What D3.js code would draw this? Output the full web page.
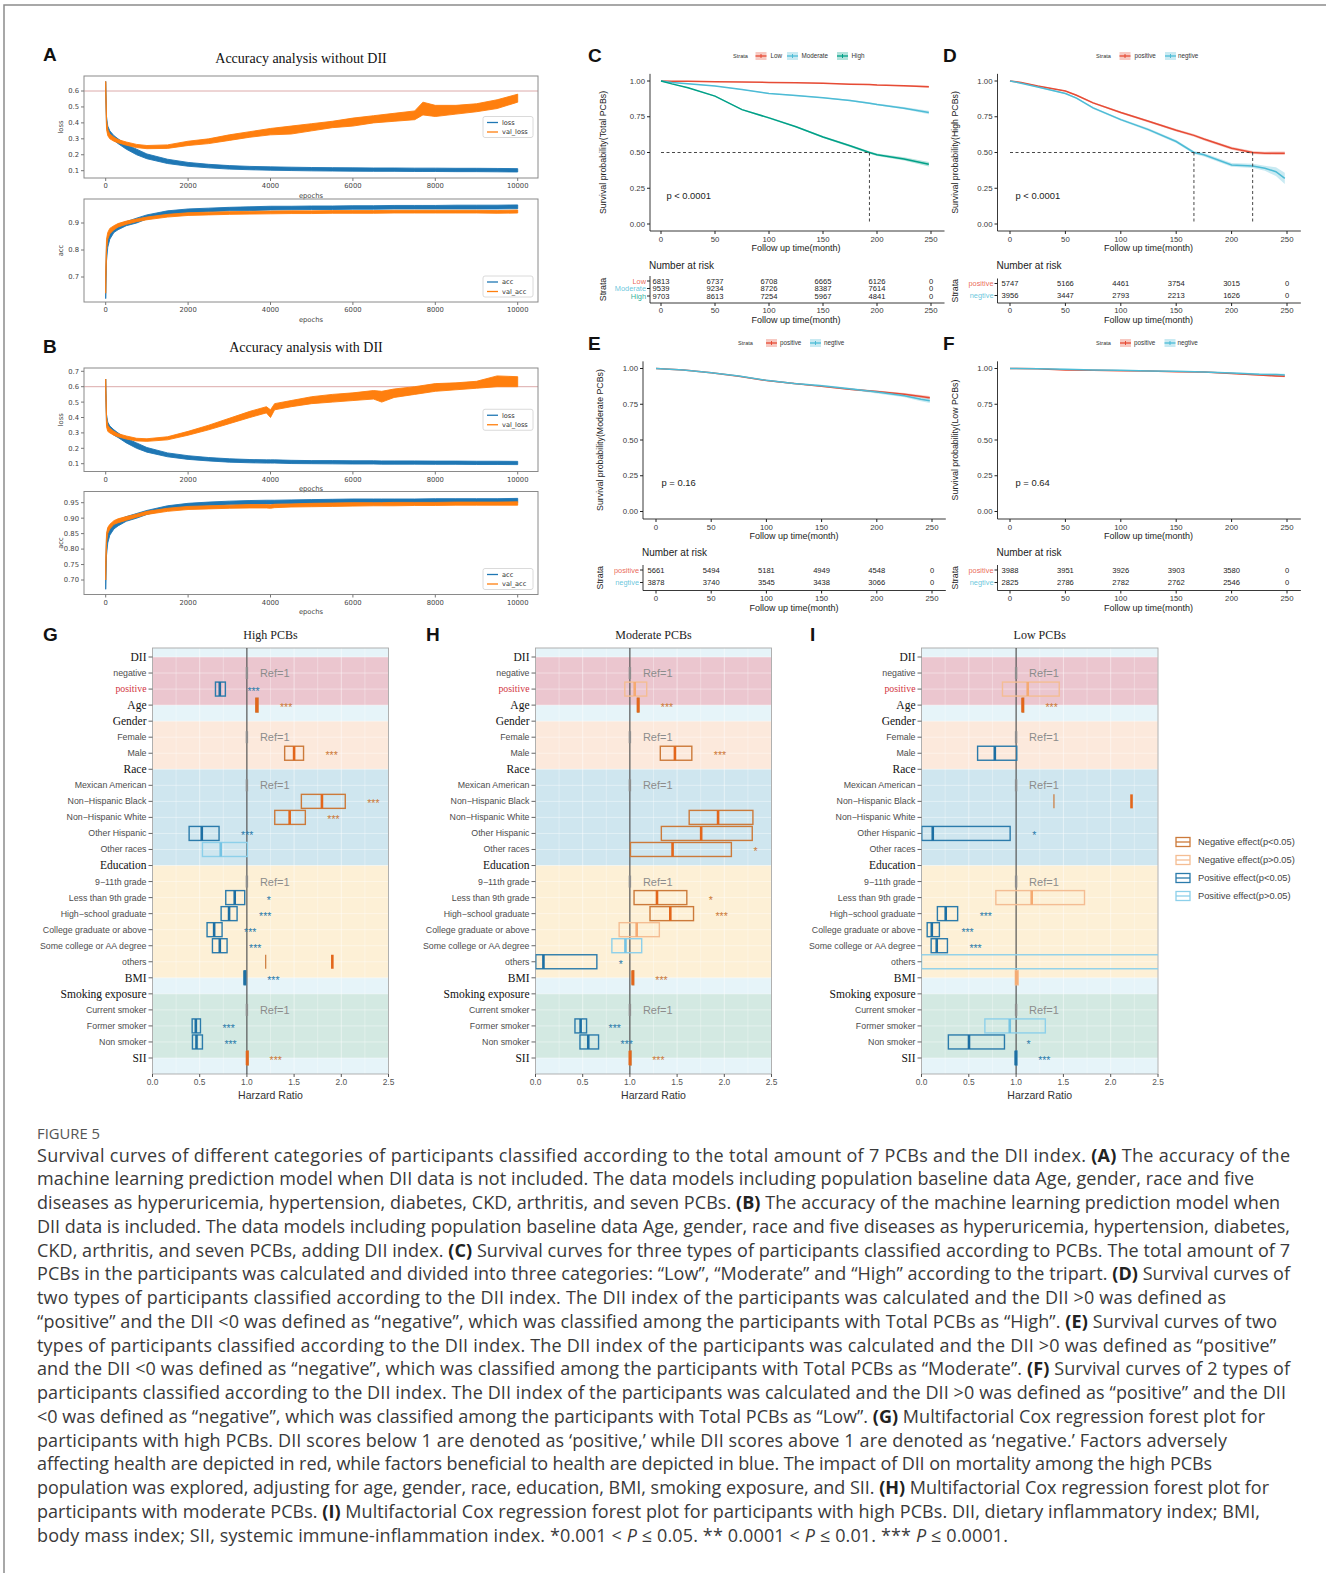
<!DOCTYPE html>
<html>
<head>
<meta charset="utf-8">
<script src="https://cdn.jsdelivr.net/npm/d3@7"></script>
<style>
  body { margin: 0; background: #fff; }
  svg { display: block; }
</style>
</head>
<body>
<script>
// ---------------- training history (lower / upper edge of each noisy trace) ----------------
const epochsA = [0, 20, 50, 100, 200, 300, 500, 750, 1000, 1500, 2000, 2500, 3000, 3500, 4000, 4500, 5000, 5500, 6000, 6500, 7000, 7500, 7700, 8000, 8500, 9000, 9500, 10000];
const lossA_lo = [0.60,0.38,0.34,0.32,0.29,0.27,0.235,0.20,0.175,0.145,0.128,0.118,0.110,0.106,0.103,0.101,0.099,0.098,0.097,0.096,0.096,0.095,0.095,0.095,0.094,0.094,0.093,0.092];
const lossA_hi = [0.66,0.44,0.38,0.35,0.32,0.30,0.265,0.235,0.205,0.172,0.152,0.140,0.132,0.127,0.124,0.122,0.120,0.119,0.118,0.117,0.117,0.116,0.116,0.116,0.115,0.115,0.114,0.113];
const vlossA_lo = [0.60,0.36,0.32,0.30,0.285,0.275,0.26,0.245,0.238,0.24,0.258,0.27,0.29,0.31,0.325,0.33,0.35,0.37,0.38,0.40,0.41,0.42,0.45,0.44,0.455,0.47,0.49,0.53];
const vlossA_hi = [0.66,0.42,0.36,0.33,0.31,0.295,0.28,0.265,0.258,0.262,0.285,0.30,0.325,0.345,0.365,0.38,0.395,0.41,0.43,0.445,0.46,0.475,0.53,0.51,0.51,0.52,0.545,0.58];
const accA_lo = [0.62,0.76,0.81,0.84,0.865,0.875,0.89,0.90,0.915,0.93,0.938,0.942,0.945,0.946,0.948,0.949,0.95,0.95,0.951,0.951,0.952,0.952,0.952,0.952,0.952,0.952,0.952,0.953];
const accA_hi = [0.70,0.82,0.85,0.87,0.885,0.895,0.905,0.918,0.93,0.945,0.952,0.955,0.958,0.96,0.962,0.962,0.963,0.963,0.964,0.964,0.965,0.965,0.965,0.965,0.966,0.966,0.966,0.967];
const vaccA_lo = [0.64,0.80,0.84,0.86,0.875,0.885,0.895,0.905,0.912,0.922,0.928,0.93,0.932,0.933,0.934,0.935,0.935,0.936,0.936,0.936,0.937,0.937,0.937,0.937,0.937,0.937,0.936,0.937];
const vaccA_hi = [0.72,0.84,0.865,0.88,0.89,0.898,0.907,0.915,0.922,0.932,0.938,0.94,0.942,0.943,0.944,0.945,0.945,0.946,0.946,0.946,0.947,0.947,0.947,0.947,0.947,0.947,0.946,0.948];

const epochsB = [0, 20, 50, 100, 200, 300, 500, 750, 1000, 1500, 2000, 2500, 3000, 3500, 3900, 4000, 4100, 4500, 5000, 5500, 6000, 6500, 6700, 7000, 7500, 8000, 8500, 9000, 9500, 10000];
const lossB_lo = [0.58,0.36,0.33,0.31,0.285,0.27,0.235,0.20,0.175,0.145,0.128,0.118,0.11,0.106,0.104,0.104,0.104,0.101,0.1,0.099,0.098,0.098,0.097,0.097,0.097,0.096,0.096,0.095,0.095,0.094];
const lossB_hi = [0.65,0.42,0.37,0.345,0.32,0.30,0.265,0.235,0.205,0.17,0.152,0.14,0.132,0.127,0.125,0.125,0.125,0.122,0.12,0.12,0.119,0.119,0.118,0.118,0.118,0.117,0.117,0.116,0.116,0.115];
const vlossB_lo = [0.58,0.34,0.31,0.30,0.285,0.275,0.26,0.248,0.245,0.255,0.285,0.32,0.36,0.40,0.43,0.40,0.45,0.47,0.49,0.50,0.51,0.52,0.50,0.53,0.55,0.57,0.58,0.59,0.60,0.60];
const vlossB_hi = [0.65,0.40,0.35,0.33,0.31,0.295,0.28,0.265,0.262,0.275,0.31,0.35,0.395,0.44,0.47,0.45,0.49,0.51,0.535,0.55,0.56,0.575,0.57,0.585,0.60,0.62,0.625,0.635,0.67,0.665];
const accB_lo = [0.67,0.78,0.82,0.845,0.865,0.875,0.89,0.90,0.912,0.928,0.936,0.94,0.943,0.945,0.946,0.946,0.946,0.947,0.948,0.949,0.95,0.95,0.95,0.95,0.95,0.951,0.951,0.951,0.951,0.951];
const accB_hi = [0.75,0.84,0.865,0.875,0.885,0.895,0.905,0.915,0.925,0.94,0.948,0.952,0.955,0.957,0.958,0.958,0.958,0.959,0.96,0.961,0.962,0.962,0.962,0.962,0.962,0.963,0.963,0.963,0.963,0.964];
const vaccB_lo = [0.70,0.82,0.85,0.865,0.88,0.885,0.893,0.903,0.912,0.922,0.928,0.93,0.932,0.933,0.933,0.932,0.934,0.936,0.937,0.938,0.939,0.94,0.94,0.94,0.941,0.941,0.942,0.942,0.942,0.942];
const vaccB_hi = [0.76,0.85,0.87,0.88,0.892,0.898,0.905,0.913,0.922,0.932,0.938,0.94,0.942,0.944,0.944,0.943,0.945,0.946,0.948,0.949,0.95,0.95,0.95,0.951,0.951,0.951,0.952,0.952,0.952,0.953];

const epochTicks = [0, 2000, 4000, 6000, 8000, 10000];

// ---------------- Kaplan–Meier curves ----------------
const timeC = [0, 10, 25, 50, 75, 100, 125, 150, 175, 193, 200, 225, 248];
const survLowC = [1, 0.999, 0.998, 0.995, 0.993, 0.99, 0.988, 0.985, 0.978, 0.975, 0.972, 0.966, 0.96];
const survModC = [1, 0.99, 0.98, 0.965, 0.94, 0.913, 0.898, 0.883, 0.864, 0.845, 0.836, 0.81, 0.78];
const survHighC = [1, 0.98, 0.953, 0.894, 0.80, 0.742, 0.68, 0.608, 0.547, 0.50, 0.484, 0.455, 0.418];
const ciLowC = [0, 0, 0, 0.001, 0.001, 0.001, 0.002, 0.002, 0.003, 0.004, 0.004, 0.005, 0.007];
const ciModC = [0, 0.001, 0.002, 0.002, 0.003, 0.003, 0.004, 0.004, 0.005, 0.006, 0.006, 0.008, 0.012];
const ciHighC = [0, 0.002, 0.003, 0.004, 0.005, 0.006, 0.006, 0.007, 0.008, 0.009, 0.009, 0.011, 0.016];
const medianC = [193];

const timeD = [0, 10, 25, 50, 60, 75, 100, 125, 150, 166, 175, 200, 219, 230, 240, 248];
const survPosD = [1, 0.99, 0.965, 0.93, 0.90, 0.847, 0.78, 0.718, 0.655, 0.62, 0.594, 0.53, 0.50, 0.495, 0.495, 0.495];
const survNegD = [1, 0.985, 0.958, 0.913, 0.88, 0.812, 0.73, 0.66, 0.577, 0.50, 0.484, 0.413, 0.406, 0.39, 0.366, 0.319];
const ciPosD = [0, 0.002, 0.003, 0.004, 0.005, 0.006, 0.007, 0.008, 0.009, 0.009, 0.01, 0.01, 0.011, 0.011, 0.012, 0.012];
const ciNegD = [0, 0.003, 0.004, 0.005, 0.006, 0.007, 0.008, 0.009, 0.01, 0.011, 0.012, 0.013, 0.015, 0.018, 0.03, 0.04];
const medianD = [166, 219];

const timeE = [0, 25, 50, 75, 100, 125, 150, 175, 200, 225, 240, 248];
const survPosE = [1, 0.99, 0.97, 0.945, 0.916, 0.895, 0.875, 0.855, 0.84, 0.82, 0.805, 0.795];
const survNegE = [1, 0.99, 0.97, 0.948, 0.917, 0.895, 0.88, 0.858, 0.835, 0.81, 0.785, 0.775];
const ciPosE = [0, 0.001, 0.002, 0.003, 0.004, 0.004, 0.005, 0.006, 0.007, 0.008, 0.01, 0.012];
const ciNegE = [0, 0.001, 0.002, 0.003, 0.004, 0.005, 0.006, 0.007, 0.009, 0.011, 0.014, 0.017];

const timeF = [0, 25, 50, 75, 100, 125, 150, 175, 200, 225, 240, 248];
const survPosF = [1, 0.998, 0.99, 0.988, 0.985, 0.982, 0.978, 0.975, 0.965, 0.955, 0.948, 0.945];
const survNegF = [1, 0.999, 0.995, 0.99, 0.987, 0.983, 0.98, 0.975, 0.968, 0.96, 0.958, 0.955];
const ciPosF = [0, 0, 0.001, 0.001, 0.002, 0.002, 0.003, 0.003, 0.004, 0.005, 0.006, 0.007];
const ciNegF = [0, 0, 0.001, 0.001, 0.002, 0.002, 0.003, 0.004, 0.005, 0.006, 0.007, 0.008];

const survTicks = [0, 0.25, 0.5, 0.75, 1];
const timeTicks = [0, 50, 100, 150, 200, 250];

// number at risk at each of timeTicks
const riskLowC = [6813, 6737, 6708, 6665, 6126, 0];
const riskModC = [9539, 9234, 8726, 8387, 7614, 0];
const riskHighC = [9703, 8613, 7254, 5967, 4841, 0];
const riskPosD = [5747, 5166, 4461, 3754, 3015, 0];
const riskNegD = [3956, 3447, 2793, 2213, 1626, 0];
const riskPosE = [5661, 5494, 5181, 4949, 4548, 0];
const riskNegE = [3878, 3740, 3545, 3438, 3066, 0];
const riskPosF = [3988, 3951, 3926, 3903, 3580, 0];
const riskNegF = [2825, 2786, 2782, 2762, 2546, 0];

// ---------------- Cox regression forest plots ----------------
const forestRows = ["DII", "negative", "positive", "Age", "Gender", "Female", "Male", "Race",
  "Mexican American", "Non\u2212Hispanic Black", "Non\u2212Hispanic White", "Other Hispanic", "Other races",
  "Education", "9\u221211th grade", "Less than 9th grade", "High\u2212school graduate", "College graduate or above",
  "Some college or AA degree", "others", "BMI", "Smoking exposure", "Current smoker", "Former smoker", "Non smoker", "SII"];
const headerRows = ["DII", "Age", "Gender", "Race", "Education", "BMI", "Smoking exposure", "SII"];
// shaded groups: [first row, last row]
const groupBands = [["DII", "Age"], ["Gender", "Race"], ["Race", "Education"], ["Education", "BMI"], ["Smoking exposure", "SII"]];
const hrTicks = [0, 0.5, 1, 1.5, 2, 2.5];

// [lower CI, HR, upper CI (null = beyond axis), effect class, significance]
const hrHigh = [
  null, "ref", [0.667, 0.713, 0.772, "pos1", "***"], [1.095, 1.105, 1.118, "neg1", "***"],
  null, "ref", [1.40, 1.50, 1.60, "neg1", "***"],
  null, "ref", [1.577, 1.795, 2.042, "neg1", "***"], [1.295, 1.453, 1.619, "neg1", "***"], [0.388, 0.522, 0.705, "pos1", "***"], [0.529, 0.723, 1.005, "pos0", ""],
  null, "ref", [0.776, 0.871, 0.977, "pos1", "*"], [0.727, 0.811, 0.896, "pos1", "***"], [0.578, 0.653, 0.737, "pos1", "***"], [0.635, 0.713, 0.790, "pos1", "***"], [1.199, 1.905, null, "neg1", ""],
  [0.971, 0.977, 0.983, "pos1", "***"],
  null, "ref", [0.42, 0.459, 0.508, "pos1", "***"], [0.423, 0.466, 0.529, "pos1", "***"],
  [0.997, 1.002, 1.007, "neg1", "***"]
];
const hrModerate = [
  null, "ref", [0.946, 1.051, 1.178, "neg0", ""], [1.080, 1.087, 1.095, "neg1", "***"],
  null, "ref", [1.322, 1.477, 1.656, "neg1", "***"],
  null, "ref", null, [1.628, 1.934, 2.303, "neg1", ""], [1.333, 1.755, 2.296, "neg1", ""], [1.006, 1.452, 2.075, "neg1", "*"],
  null, "ref", [1.044, 1.287, 1.603, "neg1", "*"], [1.213, 1.428, 1.674, "neg1", "***"], [0.886, 1.072, 1.312, "neg0", ""], [0.809, 0.953, 1.125, "pos0", ""], [0.003, 0.084, 0.650, "pos1", "*"],
  [1.025, 1.030, 1.036, "neg1", "***"],
  null, "ref", [0.418, 0.478, 0.541, "pos1", "***"], [0.471, 0.559, 0.668, "pos1", "***"],
  [0.996, 1.000, 1.004, "neg1", "***"]
];
const hrLow = [
  null, "ref", [0.856, 1.123, 1.456, "neg0", ""], [1.064, 1.070, 1.078, "neg1", "***"],
  null, "ref", [0.593, 0.775, 1.007, "pos1", ""],
  null, "ref", [1.40, 2.22, null, "neg1", ""], null, [0.003, 0.119, 0.937, "pos1", "*"], null,
  null, "ref", [0.786, 1.165, 1.723, "neg0", ""], [0.168, 0.256, 0.382, "pos1", "***"], [0.060, 0.109, 0.189, "pos1", "***"], [0.102, 0.161, 0.274, "pos1", "***"], [0.0, 3.2, 9.0, "pos0", ""],
  [0.992, 1.003, 1.022, "neg0", ""],
  null, "ref", [0.670, 0.933, 1.309, "pos0", ""], [0.284, 0.502, 0.877, "pos1", "*"],
  [0.992, 0.997, 1.001, "pos1", "***"]
];
const effectLegend = [["neg1", "Negative effect(p<0.05)"], ["neg0", "Negative effect(p>0.05)"], ["pos1", "Positive effect(p<0.05)"], ["pos0", "Positive effect(p>0.05)"]];

// ---------------- caption ----------------
const captionTitle = "FIGURE 5";
const captionLines = [
  "Survival curves of different categories of participants classified according to the total amount of 7 PCBs and the DII index. (A) The accuracy of the",
  "machine learning prediction model when DII data is not included. The data models including population baseline data Age, gender, race and five",
  "diseases as hyperuricemia, hypertension, diabetes, CKD, arthritis, and seven PCBs. (B) The accuracy of the machine learning prediction model when",
  "DII data is included. The data models including population baseline data Age, gender, race and five diseases as hyperuricemia, hypertension, diabetes,",
  "CKD, arthritis, and seven PCBs, adding DII index. (C) Survival curves for three types of participants classified according to PCBs. The total amount of 7",
  "PCBs in the participants was calculated and divided into three categories: \u201cLow\u201d, \u201cModerate\u201d and \u201cHigh\u201d according to the tripart. (D) Survival curves of",
  "two types of participants classified according to the DII index. The DII index of the participants was calculated and the DII >0 was defined as",
  "\u201cpositive\u201d and the DII <0 was defined as \u201cnegative\u201d, which was classified among the participants with Total PCBs as \u201cHigh\u201d. (E) Survival curves of two",
  "types of participants classified according to the DII index. The DII index of the participants was calculated and the DII >0 was defined as \u201cpositive\u201d",
  "and the DII <0 was defined as \u201cnegative\u201d, which was classified among the participants with Total PCBs as \u201cModerate\u201d. (F) Survival curves of 2 types of",
  "participants classified according to the DII index. The DII index of the participants was calculated and the DII >0 was defined as \u201cpositive\u201d and the DII",
  "<0 was defined as \u201cnegative\u201d, which was classified among the participants with Total PCBs as \u201cLow\u201d. (G) Multifactorial Cox regression forest plot for",
  "participants with high PCBs. DII scores below 1 are denoted as \u2018positive,\u2019 while DII scores above 1 are denoted as \u2018negative.\u2019 Factors adversely",
  "affecting health are depicted in red, while factors beneficial to health are depicted in blue. The impact of DII on mortality among the high PCBs",
  "population was explored, adjusting for age, gender, race, education, BMI, smoking exposure, and SII. (H) Multifactorial Cox regression forest plot for",
  "participants with moderate PCBs. (I) Multifactorial Cox regression forest plot for participants with high PCBs. DII, dietary inflammatory index; BMI,",
  "body mass index; SII, systemic immune-inflammation index. *0.001 < P \u2264 0.05. ** 0.0001 < P \u2264 0.01. *** P \u2264 0.0001."
];
// set width of each caption line (px)
const captionWidths = [1253, 1217, 1243, 1253, 1253, 1253, 1189, 1240, 1239, 1253, 1249, 1228, 1190, 1175, 1232, 1223, 971];

// =====================================================================
const SANS = "Liberation Sans, Arial, Helvetica, sans-serif";
const SERIF = "Liberation Serif, Times New Roman, serif";
const MPL = "DejaVu Sans, sans-serif";

const svg = d3.select("body").append("svg")
  .attr("width", 1326).attr("height", 1573)
  .style("font-family", SANS);
const defs = svg.append("defs");
let clipCount = 0;
function clipRect(x, y, w, h) {
  const id = "clip" + (clipCount++);
  defs.append("clipPath").attr("id", id).append("rect")
    .attr("x", x).attr("y", y).attr("width", w).attr("height", h);
  return `url(#${id})`;
}

// figure border
svg.append("path").attr("d", "M4,1573V5H1326").attr("fill", "none")
  .attr("stroke", "#8c8c8c").attr("stroke-width", 1.5);

function panelLetter(letter, x, y) {
  svg.append("text").attr("x", x).attr("y", y).text(letter)
    .attr("font-family", SANS).attr("font-weight", 700).attr("font-size", 19).attr("fill", "#111");
}

// ---------------- training history panels ----------------
const BLUE = "#1f77b4", ORANGE = "#ff7f0e";

function historyAxes(o) {
  const [fx0, fy0, fx1, fy1] = o.frame;
  const x = d3.scaleLinear().domain([0, 10000]).range([105.7, 517.7]);
  const y = d3.scaleLinear().domain(o.yDom).range(o.yRng);
  const g = svg.append("g");
  if (o.ref != null) {
    g.append("line").attr("x1", fx0).attr("x2", fx1).attr("y1", y(o.ref)).attr("y2", y(o.ref))
      .attr("stroke", "#dcaaaa").attr("stroke-width", 1);
  }
  const cp = clipRect(fx0, fy0, fx1 - fx0, fy1 - fy0);
  const area = d3.area().x(d => x(d[0])).y0(d => y(d[1])).y1(d => y(d[2]));
  o.series.forEach(s => {
    const pts = o.epochs.map((e, i) => [e, s.lo[i], s.hi[i]]);
    g.append("path").datum(pts).attr("clip-path", cp).attr("d", area)
      .attr("fill", s.color).attr("stroke", s.color).attr("stroke-width", 0.9).attr("stroke-linejoin", "round");
  });
  g.append("rect").attr("x", fx0).attr("y", fy0).attr("width", fx1 - fx0).attr("height", fy1 - fy0)
    .attr("fill", "none").attr("stroke", "#8a8a8a").attr("stroke-width", 1);
  // x ticks
  epochTicks.forEach(t => {
    g.append("line").attr("x1", x(t)).attr("x2", x(t)).attr("y1", fy1).attr("y2", fy1 + 3).attr("stroke", "#777");
    g.append("text").attr("x", x(t)).attr("y", fy1 + 10).attr("text-anchor", "middle")
      .attr("font-family", MPL).attr("font-size", 6.8).attr("fill", "#444").text(t);
  });
  g.append("text").attr("x", (fx0 + fx1) / 2).attr("y", fy1 + 19.5).attr("text-anchor", "middle")
    .attr("font-family", MPL).attr("font-size", 6.8).attr("fill", "#444").text("epochs");
  // y ticks
  o.yTicks.forEach(t => {
    g.append("line").attr("x1", fx0 - 3).attr("x2", fx0).attr("y1", y(t)).attr("y2", y(t)).attr("stroke", "#777");
    g.append("text").attr("x", fx0 - 5).attr("y", y(t) + 2.4).attr("text-anchor", "end")
      .attr("font-family", MPL).attr("font-size", 6.8).attr("fill", "#444").text(d3.format(o.fmt)(t));
  });
  g.append("text").attr("transform", `translate(63,${(fy0 + fy1) / 2}) rotate(-90)`).attr("text-anchor", "middle")
    .attr("font-family", MPL).attr("font-size", 6.8).attr("fill", "#444").text(o.ylab);
  // legend
  const lw = 50, lh = 21;
  const lx = fx1 - 5 - lw;
  const ly = o.legendPos === "center" ? (fy0 + fy1) / 2 - lh / 2 : fy1 - 5 - lh;
  g.append("rect").attr("x", lx).attr("y", ly).attr("width", lw).attr("height", lh).attr("rx", 2)
    .attr("fill", "#fff").attr("fill-opacity", 0.85).attr("stroke", "#d0d0d0").attr("stroke-width", 0.8);
  o.series.forEach((s, i) => {
    const yy = ly + 6 + i * 9.5;
    g.append("line").attr("x1", lx + 4).attr("x2", lx + 15).attr("y1", yy).attr("y2", yy)
      .attr("stroke", s.color).attr("stroke-width", 1.3);
    g.append("text").attr("x", lx + 19).attr("y", yy + 2.4).attr("font-family", MPL).attr("font-size", 6.6)
      .attr("fill", "#333").text(s.name);
  });
}

function historyPanel(p) {
  panelLetter(p.letter, 43, p.letterY);
  svg.append("text").attr("x", p.titleX).attr("y", p.titleY).attr("text-anchor", "middle")
    .attr("font-family", SERIF).attr("font-size", 14).attr("fill", "#111").text(p.title);
  historyAxes(p.loss);
  historyAxes(p.acc);
}

historyPanel({
  letter: "A", letterY: 61, title: "Accuracy analysis without DII", titleX: 301, titleY: 63,
  loss: {
    frame: [84, 76, 538, 178], yDom: [0.1, 0.6], yRng: [170.7, 91], yTicks: [0.1, 0.2, 0.3, 0.4, 0.5, 0.6], fmt: ".1f",
    ref: 0.6, ylab: "loss", epochs: epochsA, legendPos: "center",
    series: [{ name: "loss", color: BLUE, lo: lossA_lo, hi: lossA_hi }, { name: "val_loss", color: ORANGE, lo: vlossA_lo, hi: vlossA_hi }]
  },
  acc: {
    frame: [84, 199, 538, 302], yDom: [0.7, 0.9], yRng: [277, 223], yTicks: [0.7, 0.8, 0.9], fmt: ".1f",
    ref: null, ylab: "acc", epochs: epochsA, legendPos: "lower",
    series: [{ name: "acc", color: BLUE, lo: accA_lo, hi: accA_hi }, { name: "val_acc", color: ORANGE, lo: vaccA_lo, hi: vaccA_hi }]
  }
});
historyPanel({
  letter: "B", letterY: 353, title: "Accuracy analysis with DII", titleX: 306, titleY: 351.5,
  loss: {
    frame: [84, 368, 538, 471.5], yDom: [0.1, 0.7], yRng: [463.7, 371.3], yTicks: [0.1, 0.2, 0.3, 0.4, 0.5, 0.6, 0.7], fmt: ".1f",
    ref: 0.6, ylab: "loss", epochs: epochsB, legendPos: "center",
    series: [{ name: "loss", color: BLUE, lo: lossB_lo, hi: lossB_hi }, { name: "val_loss", color: ORANGE, lo: vlossB_lo, hi: vlossB_hi }]
  },
  acc: {
    frame: [84, 491.5, 538, 594.5], yDom: [0.70, 0.95], yRng: [580, 502.7], yTicks: [0.70, 0.75, 0.80, 0.85, 0.90, 0.95], fmt: ".2f",
    ref: null, ylab: "acc", epochs: epochsB, legendPos: "lower",
    series: [{ name: "acc", color: BLUE, lo: accB_lo, hi: accB_hi }, { name: "val_acc", color: ORANGE, lo: vaccB_lo, hi: vaccB_hi }]
  }
});

// ---------------- Kaplan–Meier panels ----------------
const KM_RED = "#e64b35", KM_CYAN = "#4dbbd5", KM_GREEN = "#00a087";

function kmPanel(c) {
  const g = svg.append("g");
  const x = d3.scaleLinear().domain([0, 250]).range([c.t0, c.t250]);
  const y = d3.scaleLinear().domain([0, 1]).range([c.y0, c.y1]);
  panelLetter(c.letter, c.letterX, c.letterY);

  // legend
  g.append("text").attr("x", c.legStrataX).attr("y", c.legY + 2).attr("font-size", 5.6).attr("fill", "#333").text("Strata");
  c.strata.forEach((s, i) => {
    const sx = c.legSwatch[i];
    g.append("rect").attr("x", sx - 5.5).attr("y", c.legY - 4).attr("width", 11).attr("height", 8)
      .attr("fill", s.color).attr("fill-opacity", 0.3);
    g.append("line").attr("x1", sx - 5.5).attr("x2", sx + 5.5).attr("y1", c.legY).attr("y2", c.legY)
      .attr("stroke", s.color).attr("stroke-width", 1.3);
    g.append("line").attr("x1", sx).attr("x2", sx).attr("y1", c.legY - 2).attr("y2", c.legY + 2)
      .attr("stroke", s.color).attr("stroke-width", 1);
    g.append("text").attr("x", c.legText[i]).attr("y", c.legY + 2.2).attr("font-size", 6.3).attr("fill", "#333").text(s.name);
  });

  // curves with confidence ribbons
  const cp = clipRect(c.ax, y(1.06), x(265) - c.ax, c.ay - y(1.06));
  c.strata.forEach(s => {
    const pts = c.time.map((t, i) => [t, s.surv[i], s.ci[i]]);
    g.append("path").datum(pts).attr("clip-path", cp)
      .attr("d", d3.area().x(d => x(d[0])).y0(d => y(d[1] - d[2])).y1(d => y(d[1] + d[2])))
      .attr("fill", s.color).attr("fill-opacity", 0.3);
  });
  c.strata.forEach(s => {
    const pts = c.time.map((t, i) => [t, s.surv[i]]);
    g.append("path").datum(pts).attr("clip-path", cp)
      .attr("d", d3.line().x(d => x(d[0])).y(d => y(d[1])))
      .attr("fill", "none").attr("stroke", s.color).attr("stroke-width", 1.5);
  });

  // median survival guides
  if (c.median.length) {
    const mx = d3.max(c.median);
    g.append("line").attr("x1", x(0)).attr("x2", x(mx)).attr("y1", y(0.5)).attr("y2", y(0.5))
      .attr("stroke", "#333").attr("stroke-width", 0.9).attr("stroke-dasharray", "3,2.5");
    c.median.forEach(m => {
      g.append("line").attr("x1", x(m)).attr("x2", x(m)).attr("y1", y(0.5)).attr("y2", y(0))
        .attr("stroke", "#333").attr("stroke-width", 0.9).attr("stroke-dasharray", "3,2.5");
    });
  }

  // axes
  g.append("line").attr("x1", c.ax).attr("x2", c.ax).attr("y1", y(1.05)).attr("y2", c.ay).attr("stroke", "#222").attr("stroke-width", 0.9);
  g.append("line").attr("x1", c.ax).attr("x2", x(262.5)).attr("y1", c.ay).attr("y2", c.ay).attr("stroke", "#222").attr("stroke-width", 0.9);
  survTicks.forEach(t => {
    g.append("line").attr("x1", c.ax - 3).attr("x2", c.ax).attr("y1", y(t)).attr("y2", y(t)).attr("stroke", "#222");
    g.append("text").attr("x", c.ax - 5).attr("y", y(t) + 2.7).attr("text-anchor", "end")
      .attr("font-size", 7.8).attr("fill", "#3a3a3a").text(d3.format(".2f")(t));
  });
  timeTicks.forEach(t => {
    g.append("line").attr("x1", x(t)).attr("x2", x(t)).attr("y1", c.ay).attr("y2", c.ay + 3).attr("stroke", "#222");
    g.append("text").attr("x", x(t)).attr("y", c.ay + 10.5).attr("text-anchor", "middle")
      .attr("font-size", 7.8).attr("fill", "#3a3a3a").text(t);
  });
  g.append("text").attr("x", x(125)).attr("y", c.ay + 20).attr("text-anchor", "middle")
    .attr("font-size", 9).attr("fill", "#222").text("Follow up time(month)");
  g.append("text").attr("transform", `translate(${c.ylabX},${(y(0) + y(1)) / 2}) rotate(-90)`)
    .attr("text-anchor", "middle").attr("font-size", 8.8).attr("fill", "#222").text(c.ylab);
  g.append("text").attr("x", x(5)).attr("y", y(0.2) + 3.3).attr("font-size", 9.4).attr("fill", "#222").text(c.pText);

  // risk table
  g.append("text").attr("x", c.ax - 1).attr("y", c.riskTitleY + 3.5).attr("font-size", 10).attr("fill", "#222").text("Number at risk");
  const rTop = c.riskRows[0] - 5;
  g.append("line").attr("x1", c.ax).attr("x2", c.ax).attr("y1", rTop).attr("y2", c.riskAxis).attr("stroke", "#222").attr("stroke-width", 0.9);
  g.append("line").attr("x1", c.ax).attr("x2", x(262.5)).attr("y1", c.riskAxis).attr("y2", c.riskAxis).attr("stroke", "#222").attr("stroke-width", 0.9);
  c.strata.forEach((s, i) => {
    const ry = c.riskRows[i];
    g.append("line").attr("x1", c.ax - 3).attr("x2", c.ax).attr("y1", ry).attr("y2", ry).attr("stroke", "#222");
    g.append("text").attr("x", c.ax - 4).attr("y", ry + 2.6).attr("text-anchor", "end")
      .attr("font-size", 7.4).attr("fill", s.color).attr("fill-opacity", 0.85).text(s.name);
    s.risk.forEach((n, j) => {
      g.append("text").attr("x", x(timeTicks[j])).attr("y", ry + 2.6).attr("text-anchor", "middle")
        .attr("font-size", 7.6).attr("fill", "#222").text(n);
    });
  });
  timeTicks.forEach(t => {
    g.append("line").attr("x1", x(t)).attr("x2", x(t)).attr("y1", c.riskAxis).attr("y2", c.riskAxis + 3).attr("stroke", "#222");
    g.append("text").attr("x", x(t)).attr("y", c.riskAxis + 10).attr("text-anchor", "middle")
      .attr("font-size", 7.8).attr("fill", "#3a3a3a").text(t);
  });
  g.append("text").attr("x", x(125)).attr("y", c.riskAxis + 20).attr("text-anchor", "middle")
    .attr("font-size", 9).attr("fill", "#222").text("Follow up time(month)");
  g.append("text").attr("transform", `translate(${c.ylabX},${(rTop + c.riskAxis) / 2}) rotate(-90)`)
    .attr("text-anchor", "middle").attr("font-size", 8.8).attr("fill", "#222").text("Strata");
}

kmPanel({
  letter: "C", letterX: 588, letterY: 62,
  ax: 650, t0: 661, t250: 931, y1: 81, y0: 224, ay: 231, ylabX: 606,
  ylab: "Survival probability(Total PCBs)", pText: "p < 0.0001",
  legY: 56, legStrataX: 733, legSwatch: [761, 792.5, 842.5], legText: [770.5, 801.5, 851.5],
  time: timeC, median: medianC,
  strata: [
    { name: "Low", color: KM_RED, surv: survLowC, ci: ciLowC, risk: riskLowC },
    { name: "Moderate", color: KM_CYAN, surv: survModC, ci: ciModC, risk: riskModC },
    { name: "High", color: KM_GREEN, surv: survHighC, ci: ciHighC, risk: riskHighC }
  ],
  riskTitleY: 265.5, riskRows: [281, 288.5, 296], riskAxis: 303
});
kmPanel({
  letter: "D", letterX: 943, letterY: 62,
  ax: 997.5, t0: 1010, t250: 1287, y1: 81, y0: 224, ay: 231, ylabX: 958,
  ylab: "Survival probability(High PCBs)", pText: "p < 0.0001",
  legY: 56, legStrataX: 1096, legSwatch: [1125, 1170.5], legText: [1134.5, 1178],
  time: timeD, median: medianD,
  strata: [
    { name: "positive", color: KM_RED, surv: survPosD, ci: ciPosD, risk: riskPosD },
    { name: "negtive", color: KM_CYAN, surv: survNegD, ci: ciNegD, risk: riskNegD }
  ],
  riskTitleY: 265.5, riskRows: [283.5, 295.5], riskAxis: 303
});
kmPanel({
  letter: "E", letterX: 588, letterY: 350,
  ax: 643, t0: 656, t250: 932, y1: 368.5, y0: 511.5, ay: 519, ylabX: 603,
  ylab: "Survival probability(Moderate PCBs)", pText: "p = 0.16",
  legY: 343, legStrataX: 738, legSwatch: [771.5, 815.5], legText: [780, 824],
  time: timeE, median: [],
  strata: [
    { name: "positive", color: KM_RED, surv: survPosE, ci: ciPosE, risk: riskPosE },
    { name: "negtive", color: KM_CYAN, surv: survNegE, ci: ciNegE, risk: riskNegE }
  ],
  riskTitleY: 552.5, riskRows: [570, 582.5], riskAxis: 590.5
});
kmPanel({
  letter: "F", letterX: 943, letterY: 350,
  ax: 997.5, t0: 1010, t250: 1287, y1: 368.5, y0: 511.5, ay: 519, ylabX: 958,
  ylab: "Survival probability(Low PCBs)", pText: "p = 0.64",
  legY: 343, legStrataX: 1096, legSwatch: [1125.5, 1170], legText: [1134, 1177.5],
  time: timeF, median: [],
  strata: [
    { name: "positive", color: KM_RED, surv: survPosF, ci: ciPosF, risk: riskPosF },
    { name: "negtive", color: KM_CYAN, surv: survNegF, ci: ciNegF, risk: riskNegF }
  ],
  riskTitleY: 552.5, riskRows: [570, 582.5], riskAxis: 590.5
});

// ---------------- forest plots ----------------
const EFFECT_STROKE = { neg1: "#cc7a3a", neg0: "#f4bd93", pos1: "#2b7bab", pos0: "#8dd0ea" };
const EFFECT_MID = { neg1: "#e3661b", neg0: "#f5aa72", pos1: "#1d6fa3", pos0: "#74c3e3" };
const BAND_FILL = ["#ebc6cf", "#fce9dc", "#cfe6ef", "#fdf0d6", "#d3e9e2"];
const BASE_FILL = "#e6f4f9";

function forestPanel(c, data) {
  const g = svg.append("g");
  const x = d3.scaleLinear().domain([0, 2.5]).range([c.x0, c.x1]);
  const y = d3.scalePoint().domain(forestRows).range([657, 1058]);
  const top = 648, bottom = 1074, L = x(0), R = x(2.5);
  panelLetter(c.letter, c.letterX, 641);
  g.append("text").attr("x", (L + R) / 2).attr("y", 638.5).attr("text-anchor", "middle")
    .attr("font-family", SERIF).attr("font-size", 12).attr("fill", "#222").text(c.title);

  g.append("rect").attr("x", L).attr("y", top).attr("width", R - L).attr("height", bottom - top).attr("fill", BASE_FILL);
  groupBands.forEach((b, i) => {
    g.append("rect").attr("x", L).attr("y", y(b[0])).attr("width", R - L).attr("height", y(b[1]) - y(b[0]))
      .attr("fill", BAND_FILL[i]);
  });
  // grid
  d3.range(0, 2.51, 0.25).forEach(t => {
    g.append("line").attr("x1", x(t)).attr("x2", x(t)).attr("y1", top).attr("y2", bottom)
      .attr("stroke", "#fff").attr("stroke-opacity", t % 0.5 === 0 ? 0.7 : 0.45).attr("stroke-width", 0.7);
  });
  forestRows.forEach(r => {
    g.append("line").attr("x1", L).attr("x2", R).attr("y1", y(r)).attr("y2", y(r))
      .attr("stroke", "#fff").attr("stroke-opacity", 0.6).attr("stroke-width", 0.7);
  });
  g.append("rect").attr("x", L).attr("y", top).attr("width", R - L).attr("height", bottom - top)
    .attr("fill", "none").attr("stroke", "#a8a8a8").attr("stroke-width", 0.9);
  g.append("line").attr("x1", x(1)).attr("x2", x(1)).attr("y1", top).attr("y2", bottom)
    .attr("stroke", "#333").attr("stroke-width", 1);

  const cp = clipRect(L, top, R - L, bottom - top);
  const marks = g.append("g").attr("clip-path", cp);
  const BH = 14;
  data.forEach((d, i) => {
    const ry = y(forestRows[i]);
    if (d === "ref") {
      marks.append("rect").attr("x", x(1) - 1.2).attr("y", ry - 6).attr("width", 2.4).attr("height", 12).attr("fill", "#8e8e8e");
      g.append("text").attr("x", x(1) + 13).attr("y", ry + 4).attr("font-size", 11).attr("fill", "#8c8c8c").text("Ref=1");
      return;
    }
    if (!d) return;
    const [lo, hr, hi, eff, sig] = d;
    const sc = EFFECT_STROKE[eff], mc = EFFECT_MID[eff];
    if (hi === null) {
      marks.append("line").attr("x1", x(lo)).attr("x2", x(lo)).attr("y1", ry - BH / 2).attr("y2", ry + BH / 2)
        .attr("stroke", sc).attr("stroke-width", 1.2);
    } else {
      const w = x(hi) - x(lo);
      marks.append("rect").attr("x", x(lo)).attr("y", ry - BH / 2).attr("width", Math.max(w, 1.5)).attr("height", BH)
        .attr("fill", w < 4 ? mc : "none").attr("stroke", sc).attr("stroke-width", 1.4);
    }
    marks.append("line").attr("x1", x(hr)).attr("x2", x(hr)).attr("y1", ry - BH / 2).attr("y2", ry + BH / 2)
      .attr("stroke", mc).attr("stroke-width", 2.6);
    if (sig) {
      g.append("text").attr("x", x(hi === null ? hr : hi) + 22).attr("y", ry + 6)
        .attr("font-size", 10.5).attr("fill", sc).text(sig);
    }
  });

  // y axis labels
  forestRows.forEach(r => {
    const ry = y(r);
    g.append("line").attr("x1", L - 4).attr("x2", L).attr("y1", ry).attr("y2", ry).attr("stroke", "#555").attr("stroke-width", 0.9);
    const isHead = headerRows.includes(r);
    const t = g.append("text").attr("x", L - 6).attr("text-anchor", "end").text(r);
    if (isHead) {
      t.attr("y", ry + 3.8).attr("font-family", SERIF).attr("font-size", 11.5).attr("fill", "#111");
    } else if (r === "positive") {
      t.attr("y", ry + 3.2).attr("font-family", SERIF).attr("font-size", 9.8).attr("fill", "#d2363f");
    } else {
      t.attr("y", ry + 3).attr("font-size", 8.8).attr("fill", "#4d4d4d");
    }
  });
  // x axis
  hrTicks.forEach(t => {
    g.append("line").attr("x1", x(t)).attr("x2", x(t)).attr("y1", bottom).attr("y2", bottom + 3).attr("stroke", "#555");
    g.append("text").attr("x", x(t)).attr("y", bottom + 10.5).attr("text-anchor", "middle")
      .attr("font-size", 8.4).attr("fill", "#555").text(d3.format(".1f")(t));
  });
  g.append("text").attr("x", (L + R) / 2).attr("y", bottom + 25).attr("text-anchor", "middle")
    .attr("font-size", 10.5).attr("fill", "#333").text("Harzard Ratio");
}

forestPanel({ letter: "G", letterX: 43, title: "High PCBs", x0: 152.5, x1: 388.5 }, hrHigh);
forestPanel({ letter: "H", letterX: 426, title: "Moderate PCBs", x0: 535.5, x1: 771.5 }, hrModerate);
forestPanel({ letter: "I", letterX: 810, title: "Low PCBs", x0: 921.5, x1: 1158 }, hrLow);

// effect legend
effectLegend.forEach(([eff, label], i) => {
  const ly = 842 + i * 18;
  svg.append("rect").attr("x", 1176).attr("y", ly - 4.5).attr("width", 14).attr("height", 9)
    .attr("fill", "none").attr("stroke", EFFECT_STROKE[eff]).attr("stroke-width", 1.3);
  svg.append("line").attr("x1", 1176).attr("x2", 1190).attr("y1", ly).attr("y2", ly)
    .attr("stroke", EFFECT_STROKE[eff]).attr("stroke-width", 1.3);
  svg.append("text").attr("x", 1198).attr("y", ly + 3).attr("font-size", 9.3).attr("fill", "#444").text(label);
});

// ---------------- caption ----------------
svg.append("text").attr("x", 37).attr("y", 1138.5).attr("font-family", "Open Sans, sans-serif")
  .attr("font-size", 14.8).attr("fill", "#555").text(captionTitle);
captionLines.forEach((line, i) => {
  const t = svg.append("text").attr("x", 37).attr("y", 1161.5 + i * 23.75)
    .attr("font-family", "Open Sans, sans-serif").attr("font-size", 18).attr("fill", "#3a3a3a")
    .attr("textLength", captionWidths[i]).attr("lengthAdjust", "spacing");
  line.split(/(\([A-I]\)|\bP\b)/).forEach(part => {
    if (!part) return;
    const ts = t.append("tspan").text(part);
    if (/^\([A-I]\)$/.test(part)) ts.attr("font-weight", 700).attr("fill", "#222");
    else if (part === "P") ts.attr("font-style", "italic");
  });
});
</script>
</body>
</html>
